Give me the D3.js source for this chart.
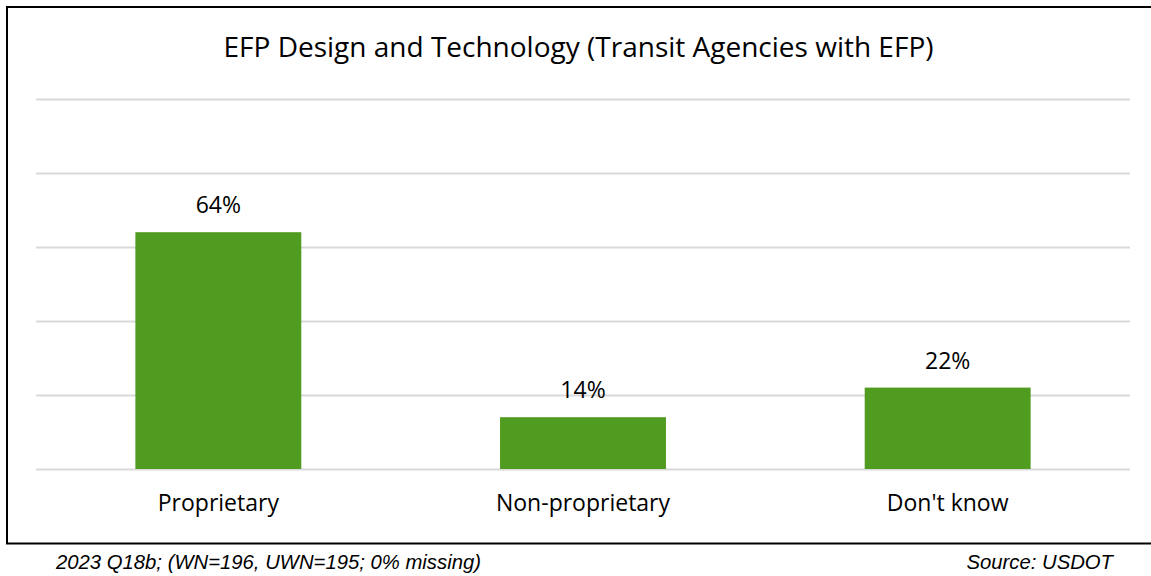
<!DOCTYPE html>
<html>
<head>
<meta charset="utf-8">
<script src="https://cdn.jsdelivr.net/npm/d3@7"></script>
<style>
  html, body { margin: 0; padding: 0; background: #fff; }
  svg { display: block; }
</style>
</head>
<body>
<svg id="chart" width="1151" height="576"></svg>
<script>
// Survey answers: share of transit agencies with EFP
const categories = ["Proprietary", "Non-proprietary", "Don't know"];
const values = [64, 14, 22];
const valueLabels = ["64%", "14%", "22%"];
const gridTicks = [0, 20, 40, 60, 80, 100];

const title = "EFP Design and Technology (Transit Agencies with EFP)";
const noteText = "2023 Q18b; (WN=196, UWN=195; 0% missing)";
const sourceText = "Source: USDOT";

const W = 1151, H = 576;
const plot = { left: 36, right: 1130, top: 99, bottom: 469 };
const sansFont = "'Open Sans', 'Noto Sans', sans-serif";
const noteFont = "'Liberation Sans', Arial, sans-serif";

const svg = d3.select("#chart");

svg.append("rect").attr("width", W).attr("height", H).attr("fill", "#fff");

// chart frame (right edge runs past the page)
svg.append("rect")
  .attr("x", 7).attr("y", 7)
  .attr("width", W + 10).attr("height", 536.5)
  .attr("fill", "none").attr("stroke", "#000").attr("stroke-width", 2);

const x = d3.scaleBand()
  .domain(categories)
  .range([plot.left, plot.right])
  .paddingInner(0.545)
  .paddingOuter(0.2725);

const y = d3.scaleLinear()
  .domain([0, 100])
  .range([plot.bottom, plot.top]);

// horizontal gridlines
svg.append("g")
  .selectAll("line")
  .data(gridTicks)
  .join("line")
  .attr("x1", plot.left).attr("x2", plot.right)
  .attr("y1", d => Math.round(y(d)) + 0.5)
  .attr("y2", d => Math.round(y(d)) + 0.5)
  .attr("stroke", "#d9d9d9").attr("stroke-width", 2);

// bars
svg.append("g")
  .selectAll("rect")
  .data(values)
  .join("rect")
  .attr("x", (d, i) => x(categories[i]))
  .attr("width", x.bandwidth())
  .attr("y", d => y(d))
  .attr("height", d => y(0) - y(d))
  .attr("fill", "#509c20");

// value labels above bars
svg.append("g")
  .selectAll("text")
  .data(values)
  .join("text")
  .attr("x", (d, i) => x(categories[i]) + x.bandwidth() / 2)
  .attr("y", d => y(d) - 19)
  .attr("text-anchor", "middle")
  .attr("font-family", sansFont)
  .attr("font-size", 23)
  .attr("fill", "#000")
  .text((d, i) => valueLabels[i]);

// category axis labels
const xAxis = d3.axisBottom(x).tickSize(0).tickPadding(0);
const gx = svg.append("g")
  .attr("transform", `translate(0,${plot.bottom})`)
  .call(xAxis);
gx.select(".domain").remove();
gx.selectAll("text")
  .attr("dy", 0)
  .attr("y", 42)
  .attr("font-family", sansFont)
  .attr("font-size", 23)
  .attr("fill", "#000");

// title
svg.append("text")
  .attr("x", 578.5).attr("y", 57)
  .attr("text-anchor", "middle")
  .attr("font-family", sansFont)
  .attr("font-size", 28)
  .attr("fill", "#000")
  .text(title);

// footnotes
svg.append("text")
  .attr("x", 56).attr("y", 569)
  .attr("font-family", noteFont)
  .attr("font-style", "italic")
  .attr("font-size", 20.3)
  .attr("fill", "#000")
  .text(noteText);

svg.append("text")
  .attr("x", 1113).attr("y", 569)
  .attr("text-anchor", "end")
  .attr("font-family", noteFont)
  .attr("font-style", "italic")
  .attr("font-size", 20.3)
  .attr("fill", "#000")
  .text(sourceText);
</script>
</body>
</html>
